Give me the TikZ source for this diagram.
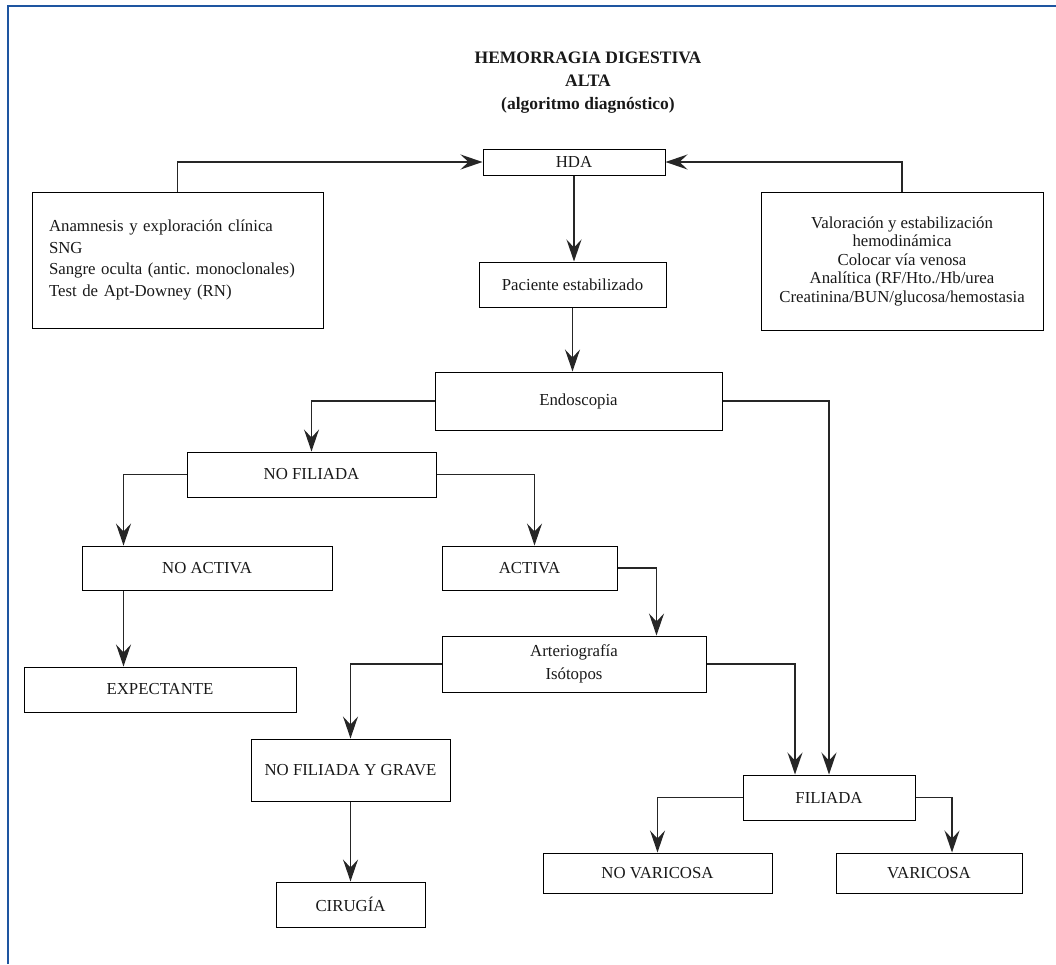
\documentclass[tikz,border=0pt]{standalone}
\usepackage{fontspec}
\setmainfont{Liberation Serif}
\usetikzlibrary{arrows.meta,positioning}
\frenchspacing

\definecolor{marco}{RGB}{30,85,160}
\tikzset{
  caja/.style={draw=black, line width=1pt, inner sep=0pt, text=black!90,
    font=\fontsize{16.8}{18.5}\selectfont},
  flecha/.style={line width=1.5pt, draw=black!85,
    -{Stealth[length=22pt,width=15pt,inset=8pt]}},
}

\begin{document}
\begin{tikzpicture}[x=1pt,y=-1pt]
  \useasboundingbox (0,0) rectangle (1056,964);
  \draw[marco, line width=2pt] (7.5,964) -- (7.5,6) -- (1056,6); % page frame

  \node[align=center, text=black!90, font=\bfseries\fontsize{17.5}{23}\selectfont] (titulo)
    at (588,83) {HEMORRAGIA DIGESTIVA\\ALTA\\(algoritmo diagnóstico)};

  % top row
  \node[caja, minimum width=182pt, minimum height=26pt] (hda) at (574,162) {HDA};
  \node[caja, text width=257pt, inner xsep=17pt, minimum height=136pt, align=left,
    font=\fontsize{16.8}{21.5}\selectfont] (anam) at (177.5,260)
    {Anamnesis y exploración clínica\\SNG\\Sangre oculta (antic. monoclonales)\\Test de Apt-Downey (RN)};
  \node[caja, minimum width=282pt, minimum height=138pt, align=center] (valor) at (902,261)
    {Valoración y estabilización\\hemodinámica\\Colocar vía venosa\\Analítica (RF/Hto./Hb/urea\\Creatinina/BUN/glucosa/hemostasia};
  \node[caja, minimum width=187pt, minimum height=45pt] (pac) at (572.5,284.5) {Paciente estabilizado};
  \node[caja, minimum width=287pt, minimum height=58pt] (endo) at (578.5,401) {Endoscopia};

  % branches
  \node[caja, minimum width=249pt, minimum height=45pt] (nofil) at (311.5,474.5) {NO FILIADA};
  \node[caja, minimum width=250pt, minimum height=44pt] (noact) at (207,568) {NO ACTIVA};
  \node[caja, minimum width=175pt, minimum height=44pt] (act) at (529.5,568) {ACTIVA};
  \node[caja, minimum width=272pt, minimum height=45pt] (expect) at (160,689.5) {EXPECTANTE};
  \node[caja, minimum width=264pt, minimum height=56pt, align=center,
    font=\fontsize{16.8}{23}\selectfont] (arte) at (574,664) {Arteriografía\\Isótopos};
  \node[caja, minimum width=199pt, minimum height=62pt] (grave) at (350.5,770) {NO FILIADA Y GRAVE};
  \node[caja, minimum width=149pt, minimum height=45pt] (cir) at (350.5,904.5) {CIRUGÍA};
  \node[caja, minimum width=172pt, minimum height=45pt] (fil) at (829,797.5) {FILIADA};
  \node[caja, minimum width=229pt, minimum height=40pt] (novar) at (657.5,873) {NO VARICOSA};
  \node[caja, minimum width=186pt, minimum height=40pt] (var) at (929,873) {VARICOSA};

  % connectors
  \draw[flecha] (anam.north) |- (hda.west);
  \draw[flecha] (valor.north) |- (hda.east);
  \draw[flecha] (hda.south) -- (hda.south |- pac.north);
  \draw[flecha] (pac.south) -- (pac.south |- endo.north);
  \draw[flecha] (endo.west) -| (nofil.north);
  \draw[flecha] (endo.east) -| (fil.north);
  \draw[flecha] (nofil.west) -| ([xshift=42pt]noact.north west);
  \draw[flecha] (nofil.east) -| ([xshift=5pt]act.north);
  \draw[flecha] ([xshift=42pt]noact.south west) -- ([xshift=42pt]noact.south west |- expect.north);
  \draw[flecha] (act.east) -| ([xshift=-50pt]arte.north east);
  \draw[flecha] (arte.west) -| (grave.north);
  \draw[flecha] (arte.east) -| ([xshift=-34pt]fil.north);
  \draw[flecha] (grave.south) -- (cir.north);
  \draw[flecha] (fil.west) -| (novar.north);
  \draw[flecha] (fil.east) -| ([xshift=23pt]var.north);
\end{tikzpicture}
\end{document}
